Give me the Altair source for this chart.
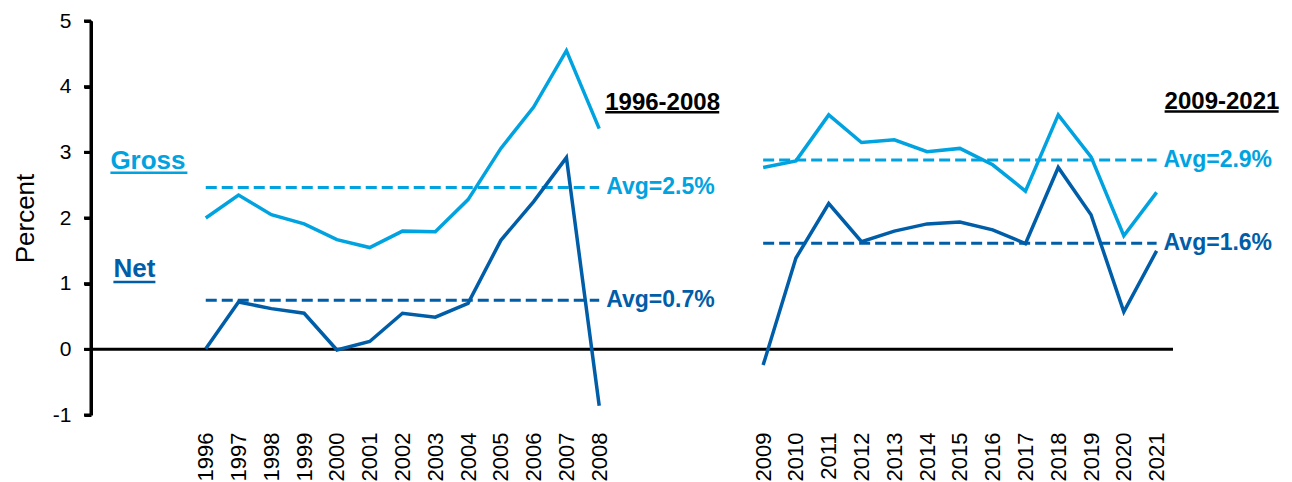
import altair as alt
import pandas as pd

# ---- data ----
years1 = ["1996", "1997", "1998", "1999", "2000", "2001", "2002",
          "2003", "2004", "2005", "2006", "2007", "2008"]
years2 = ["2009", "2010", "2011", "2012", "2013", "2014", "2015",
          "2016", "2017", "2018", "2019", "2020", "2021"]
gross1 = [2.00, 2.35, 2.05, 1.91, 1.67, 1.55, 1.80, 1.79, 2.28, 3.06, 3.69, 4.55, 3.36]
net1 = [0.01, 0.72, 0.62, 0.55, -0.01, 0.12, 0.55, 0.49, 0.70, 1.66, 2.25, 2.92, -0.86]
gross2 = [2.77, 2.87, 3.57, 3.15, 3.19, 3.01, 3.06, 2.81, 2.41, 3.57, 2.93, 1.73, 2.39]
net2 = [-0.24, 1.39, 2.22, 1.64, 1.80, 1.91, 1.94, 1.82, 1.61, 2.77, 2.05, 0.57, 1.50]
y_ticks = [-1, 0, 1, 2, 3, 4, 5]
avg_labels = {"1996-2008": {"Gross": "Avg=2.5%", "Net": "Avg=0.7%"},
              "2009-2021": {"Gross": "Avg=2.9%", "Net": "Avg=1.6%"}}
blank_before = ["_1", "_2", "_3"]
blank_between = ["_4", "_5", "_6", "_7"]
x_domain = blank_before + years1 + blank_between + years2

LIGHT = "#00A3E0"
DARK = "#005DA8"
FONT = "Liberation Sans"
W, H = 1082, 394

rows = []
for period, yrs, g, n in [("1996-2008", years1, gross1, net1),
                          ("2009-2021", years2, gross2, net2)]:
    for y, gv, nv in zip(yrs, g, n):
        rows.append({"year": y, "value": gv, "series": "Gross", "period": period})
        rows.append({"year": y, "value": nv, "series": "Net", "period": period})
df = pd.DataFrame(rows)

avg_rows = []
for period, yrs, g, n in [("1996-2008", years1, gross1, net1),
                          ("2009-2021", years2, gross2, net2)]:
    for s, vals in [("Gross", g), ("Net", n)]:
        avg_rows.append({"start": yrs[0], "end": yrs[-1], "avg": sum(vals) / len(vals),
                         "series": s, "label": avg_labels[period][s]})
df_avg = pd.DataFrame(avg_rows)

xscale = alt.Scale(domain=x_domain, type="point", padding=0.5)
yscale = alt.Scale(domain=[-1, 5], nice=False, zero=False)
color = alt.Color("series:N", scale=alt.Scale(domain=["Gross", "Net"], range=[LIGHT, DARK]),
                  legend=None)

xaxis = alt.Axis(labelAngle=-90, labelExpr="indexof(datum.label, '_') == 0 ? '' : datum.label",
                 domain=False, ticks=False, labelPadding=17, labelFontSize=22,
                 labelColor="black", grid=False, title=None, labelFont=FONT)
yaxis = alt.Axis(values=y_ticks, labelExpr="'' + datum.value", domain=True,
                 domainColor="#000000", domainWidth=3, domainOpacity=1,
                 ticks=True, tickColor="#000000", tickWidth=3, tickSize=7, tickOpacity=1,
                 labelPadding=13, labelFontSize=21, labelColor="black", titleFontSize=26,
                 titleFontWeight="normal", titleColor="black", titlePadding=14,
                 grid=False, labelFont=FONT, titleFont=FONT, title="Percent", zindex=2)


def xenc(field=None, datum=None):
    if datum is not None:
        return alt.X(datum=datum, type="ordinal", scale=xscale, axis=xaxis)
    return alt.X(field, type="ordinal", scale=xscale, axis=xaxis)


def yenc(field=None, datum=None):
    if datum is not None:
        return alt.Y(datum=datum, type="quantitative", scale=yscale, axis=yaxis)
    return alt.Y(field, type="quantitative", scale=yscale, axis=yaxis)


zero = alt.Chart(pd.DataFrame({"v": [0]})).mark_rule(color="black", strokeWidth=3).encode(
    y=yenc("v"), x=alt.value(0), x2=alt.value(W))

# explicit y-axis line and ticks (drawn in black, 3px, as in the reference)
yline = alt.Chart(pd.DataFrame({"lo": [min(y_ticks)], "hi": [max(y_ticks)]})).mark_rule(
    color="black", strokeWidth=3).encode(
    x=alt.value(0), y=yenc("lo"), y2="hi:Q")
yticks = alt.Chart(pd.DataFrame({"t": y_ticks})).mark_rule(
    color="black", strokeWidth=3).encode(
    y=yenc("t"), x=alt.value(-7), x2=alt.value(0))

avg_rule = alt.Chart(df_avg).mark_rule(strokeDash=[11, 5], strokeWidth=3).encode(
    x=xenc("start"), x2="end:O", y=yenc("avg"), color=color)

lines = alt.Chart(df).mark_line(strokeWidth=3.5).encode(
    x=xenc("year"), y=yenc("value"), color=color, detail="period:N")

avg_text = alt.Chart(df_avg).mark_text(align="left", baseline="middle", dx=7, fontSize=23,
                                       fontWeight="bold", font=FONT).encode(
    x=xenc("end"), y=yenc("avg"), text="label:N", color=color)


def label(text, xcat, dx, yval, size, col, ul_y, ul_len):
    t = alt.Chart(pd.DataFrame({"a": [0]})).mark_text(
        text=text, align="left", baseline="alphabetic", dx=dx, fontSize=size,
        fontWeight="bold", font=FONT, color=col).encode(
        x=xenc(datum=xcat), y=yenc(datum=yval))
    u = alt.Chart(pd.DataFrame({"a": [0]})).mark_rule(
        color=col, strokeWidth=2.5, xOffset=dx, x2Offset=dx + ul_len).encode(
        x=xenc(datum=xcat), x2=alt.X2(datum=xcat), y=yenc(datum=ul_y))
    return [t, u]


ann = []
ann += label("1996-2008", "2008", 6, 3.644, 24, "black", 3.61, 114)
ann += label("2009-2021", "2021", 8, 3.667, 24, "black", 3.62, 114)
ann += label("Gross", "_1", 3, 2.753, 26, LIGHT, 2.69, 77)
ann += label("Net", "_1", 6, 1.10, 26, DARK, 1.025, 42)

chart = alt.layer(zero, avg_rule, lines, avg_text, yline, yticks, *ann).properties(
    width=W, height=H,
    autosize=alt.AutoSizeParams(type="none"),
    padding={"left": 91, "top": 21, "right": 1292 - 91 - W, "bottom": 482 - 21 - H},
    background="white",
).configure(font=FONT).configure_view(stroke=None).configure_axisY(
    domainColor="#000000", domainWidth=3, tickColor="#000000", tickWidth=3, tickSize=7,
    labelPadding=13, labelFontSize=21, labelColor="black", titleFontSize=26,
    titleFontWeight="normal", titleColor="black", titlePadding=14, grid=False,
    labelFont=FONT, titleFont=FONT
).configure_axisX(
    domain=False, ticks=False, labelPadding=17, labelFontSize=22, labelColor="black",
    grid=False, labelFont=FONT
)

chart.save("out.html", embed_options={"renderer": "svg", "actions": False})
